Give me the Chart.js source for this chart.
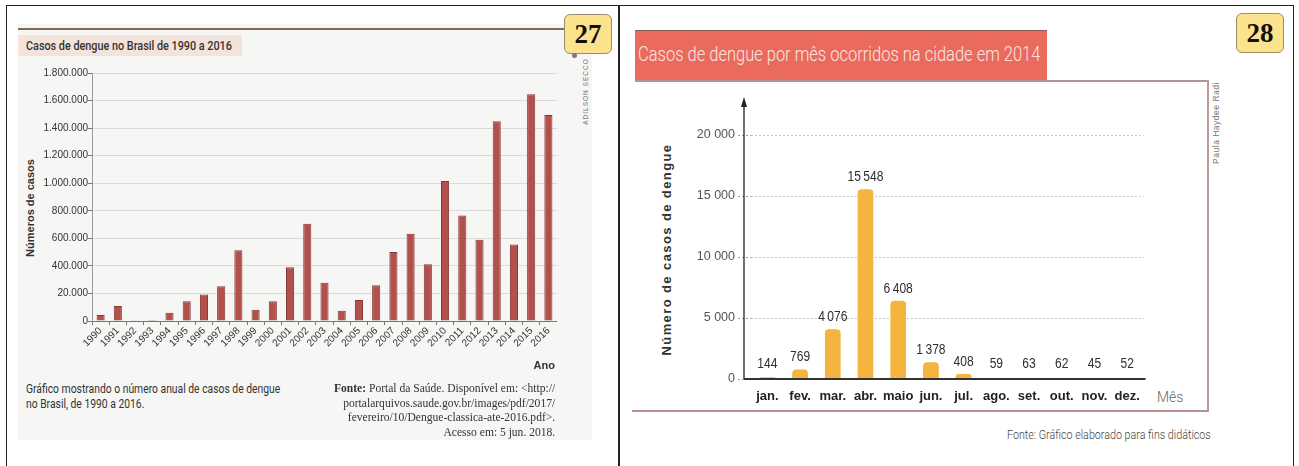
<!DOCTYPE html>
<html>
<head>
<meta charset="utf-8">
<script src="https://cdn.jsdelivr.net/npm/chart.js@4.4.1/dist/chart.umd.min.js"></script>
<style>
  body { margin: 0; width: 1299px; height: 466px; background: #fff; position: relative; overflow: hidden;
         font-family: 'Liberation Sans', Roboto, sans-serif; color: #333; }
  .abs { position: absolute; white-space: nowrap; }
  .badge { position: absolute; width: 46px; height: 38px; background: #fde28d; border: 1px solid #9b8c6c; border-radius: 6px;
           font: bold 27px 'Liberation Serif', 'DejaVu Serif', serif; color: #111; text-align: center; line-height: 38px; }
  .vert { position: absolute; transform: rotate(-90deg); transform-origin: center; white-space: nowrap; text-align: center; }
  canvas { position: absolute; }
</style>
</head>
<body>
<!-- moldura da tabela -->
<div class="abs" style="left:6px;top:5px;width:1286px;height:480px;border:1.5px solid #222;"></div>
<div class="abs" style="left:618px;top:5px;width:1.5px;height:470px;background:#222;"></div>

<!-- painel 27 -->
<div class="abs" style="left:18px;top:24px;width:574px;height:416px;background:#f6f6f5;"></div>
<div class="abs" style="left:18px;top:28px;width:548px;height:2px;background:#7b6b62;"></div>
<div class="abs" style="left:18px;top:35px;width:224px;height:21px;background:#f4e3da;"></div>
<div class="abs" id="tit27" style="left:26px;top:37px;font:500 13.5px Roboto, sans-serif;color:#333;">Casos de dengue no Brasil de 1990 a 2016</div>
<div class="badge" style="left:564px;top:14px;">27</div>
<div class="abs" style="left:572px;top:53px;width:5px;height:5px;border-radius:50%;background:#8b6f96;"></div>
<div class="vert" style="left:535px;top:88px;width:100px;font-size:6.5px;color:#777;letter-spacing:1px;">ADILSON SECCO</div>
<div class="vert" style="left:-70px;top:202px;width:200px;font-size:11px;font-weight:bold;color:#333;">Números de casos</div>
<canvas id="grafAnual" width="537" height="320" style="left:20px;top:60px;"></canvas>
<div class="abs" style="left:520px;top:359px;width:35px;text-align:right;font-size:11px;font-weight:bold;color:#333;">Ano</div>
<div class="abs" id="legenda27" style="left:26px;top:381px;font:12.5px/15px Roboto, sans-serif;color:#333;">Gráfico mostrando o número anual de casos de dengue<br>no Brasil, de 1990 a 2016.</div>
<div class="abs" id="fonte27" style="right:744px;top:381px;text-align:right;font:11.5px/14.7px 'Liberation Serif','DejaVu Serif',serif;color:#333;"><b>Fonte:</b> Portal da Saúde. Disponível em: &lt;http://<br>portalarquivos.saude.gov.br/images/pdf/2017/<br>fevereiro/10/Dengue-classica-ate-2016.pdf&gt;.<br>Acesso em: 5 jun. 2018.</div>

<!-- painel 28 -->
<div class="abs" style="left:635px;top:30px;width:412px;height:50px;background:#ea6a5e;border-top:1px solid #8a5a55;"></div>
<div class="abs" id="tit28" style="left:638px;top:42px;font:300 21px Roboto, sans-serif;color:#fbe6e1;">Casos de dengue por mês ocorridos na cidade em 2014</div>
<div class="abs" style="left:635px;top:80px;width:573px;height:1.5px;background:#b09595;"></div>
<div class="abs" style="left:1207px;top:80px;width:1.5px;height:332px;background:#bf9c9c;"></div>
<div class="abs" style="left:632px;top:410px;width:577px;height:2px;background:#b89090;"></div>
<div class="badge" style="left:1236px;top:13px;">28</div>
<div class="vert" style="left:1116px;top:118px;width:200px;font-size:8.5px;color:#777;letter-spacing:0.5px;">Paula Haydee Radi</div>
<div class="vert" style="left:516px;top:242px;width:300px;font-size:13px;font-weight:bold;color:#333;letter-spacing:1.4px;">Número de casos de dengue</div>
<canvas id="grafMensal" width="510" height="330" style="left:640px;top:85px;"></canvas>
<div class="abs" style="left:1157px;top:389px;font:300 14px Roboto, sans-serif;color:#666;">Mês</div>
<div class="abs" id="fonte28" style="right:88px;top:428px;font:300 12px Roboto, sans-serif;color:#444;">Fonte: Gráfico elaborado para fins didáticos</div>

<script>
// Gráfico 27: casos de dengue por ano no Brasil
const anos = ['1990', '1991', '1992', '1993', '1994', '1995', '1996', '1997', '1998', '1999', '2000', '2001', '2002', '2003',
              '2004', '2005', '2006', '2007', '2008', '2009', '2010', '2011', '2012', '2013', '2014', '2015', '2016'];
const casosAno = [43000, 108000, 2000, 7000, 60000, 144000, 193000, 253000, 513000, 82000, 144000, 390000, 705000, 277000,
                  74000, 152000, 260000, 500000, 633000, 412000, 1016000, 765000, 590000, 1449000, 556000, 1646000, 1495000];
const rotulosEixoY = ['0', '20.000', '400.000', '600.000', '800.000', '1.000.000', '1.200.000', '1.400.000', '1.600.000', '1.800.000'];

// Gráfico 28: casos por mês na cidade em 2014
const meses = ['jan.', 'fev.', 'mar.', 'abr.', 'maio', 'jun.', 'jul.', 'ago.', 'set.', 'out.', 'nov.', 'dez.'];
const casosMes = [144, 769, 4076, 15548, 6408, 1378, 408, 59, 63, 62, 45, 52];
const rotulosEixoMes = ['0', '5 000', '10 000', '15 000', '20 000'];

const fonte = "'Liberation Sans', Roboto, sans-serif";

// encolhe o texto na horizontal até a largura do original
function ajustaLargura(id, largura, origem) {
    const el = document.getElementById(id);
    el.style.transformOrigin = origem || 'left top';
    el.style.transform = 'scaleX(' + (largura / el.offsetWidth) + ')';
}
ajustaLargura('tit27', 206);
ajustaLargura('legenda27', 254);
ajustaLargura('fonte27', 221, 'right top');
ajustaLargura('tit28', 402);
ajustaLargura('fonte28', 204, 'right top');

new Chart(document.getElementById('grafAnual'), {
    type: 'bar',
    data: {
        labels: anos,
        datasets: [{
            data: casosAno,
            backgroundColor: '#b4504c',
            borderColor: '#853835',
            borderWidth: 1,
            barPercentage: 0.47,
            categoryPercentage: 1
        }]
    },
    options: {
        responsive: false,
        animation: false,
        layout: { padding: { top: 13, right: 0, left: 0, bottom: 0 } },
        plugins: { legend: { display: false }, tooltip: { enabled: false } },
        scales: {
            x: {
                grid: { drawOnChartArea: false, tickLength: 4, color: '#777' },
                border: { color: '#777' },
                ticks: { autoSkip: false, minRotation: 45, maxRotation: 45, padding: 0, color: '#333',
                         font: { family: fonte, size: 10 } },
                afterFit: s => { s.height = 59; }
            },
            y: {
                min: 0,
                max: 1800000,
                ticks: { stepSize: 200000, padding: 0, color: '#333', font: { family: fonte, size: 10 },
                         callback: (v, i) => rotulosEixoY[i] },
                grid: { color: '#dadada', tickLength: 4, tickColor: '#777' },
                border: { color: '#999' },
                afterFit: s => { s.width = 72; }
            }
        }
    }
});

// eixos com seta e rótulos de valor sobre as barras
const eixosMensal = {
    id: 'eixosMensal',
    afterDatasetsDraw(chart) {
        const { ctx, chartArea, scales } = chart;
        const ax = chartArea.left - 7;
        const y0 = scales.y.getPixelForValue(0);
        ctx.save();
        ctx.strokeStyle = '#222';
        ctx.lineWidth = 1.3;
        ctx.beginPath();
        ctx.moveTo(ax, y0);
        ctx.lineTo(ax, 18);
        ctx.stroke();
        ctx.fillStyle = '#222';
        ctx.beginPath();
        ctx.moveTo(ax, 12);
        ctx.lineTo(ax - 3, 22);
        ctx.lineTo(ax + 3, 22);
        ctx.closePath();
        ctx.fill();
        ctx.strokeStyle = '#333';
        ctx.lineWidth = 2;
        ctx.beginPath();
        ctx.moveTo(ax, y0);
        ctx.lineTo(chartArea.right + 2, y0);
        ctx.stroke();

        ctx.fillStyle = '#2e2e2e';
        ctx.font = '14px ' + fonte;
        ctx.textAlign = 'center';
        ctx.textBaseline = 'bottom';
        chart.getDatasetMeta(0).data.forEach((bar, i) => {
            const txt = casosMes[i].toLocaleString('en-US').replace(',', '\u2009');
            ctx.save();
            ctx.translate(bar.x, Math.min(bar.y, y0 - 3) - 5);
            ctx.scale(0.86, 1);
            ctx.fillText(txt, 0, 0);
            ctx.restore();
        });
        ctx.restore();
    }
};

new Chart(document.getElementById('grafMensal'), {
    type: 'bar',
    data: {
        labels: meses,
        datasets: [{
            data: casosMes,
            backgroundColor: '#f3b440',
            borderRadius: { topLeft: 4, topRight: 4 },
            borderSkipped: 'bottom',
            barPercentage: 0.48,
            categoryPercentage: 1
        }]
    },
    options: {
        responsive: false,
        animation: false,
        layout: { padding: { top: 50, right: 3.5, left: 0, bottom: 0 } },
        plugins: { legend: { display: false }, tooltip: { enabled: false } },
        scales: {
            x: {
                grid: { display: false, drawTicks: false },
                border: { display: false },
                ticks: { autoSkip: false, minRotation: 0, maxRotation: 0, padding: 10, color: '#222',
                         font: { family: fonte, size: 13, weight: 'bold' } },
                afterFit: s => { s.height = 36; }
            },
            y: {
                min: 0,
                max: 20000,
                ticks: { stepSize: 5000, padding: 3, color: '#555', font: { family: fonte, size: 12.5 },
                         callback: (v, i) => rotulosEixoMes[i] },
                grid: { color: '#c4c4c4', tickLength: 13, tickColor: '#999', tickBorderDash: [2, 2] },
                border: { display: false, dash: [2, 2] },
                afterFit: s => { s.width = 111; }
            }
        }
    },
    plugins: [eixosMensal]
});
</script>
</body>
</html>
